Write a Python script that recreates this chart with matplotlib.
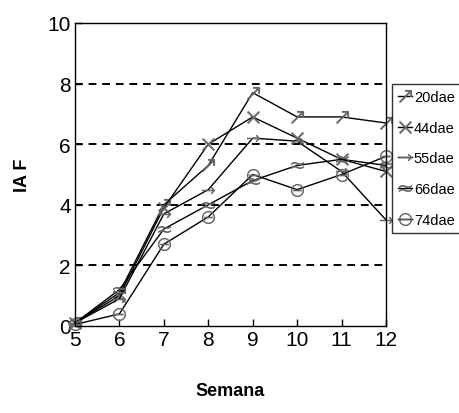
import matplotlib
matplotlib.use("Agg")
import matplotlib.pyplot as plt

plt.rcParams['font.family'] = ['Liberation Sans', 'DejaVu Sans']
plt.rcParams['mathtext.fontset'] = 'dejavusans'

semana = [5, 6, 7, 8, 9, 10, 11, 12]
labels = ['20dae', '44dae', '55dae', '66dae', '74dae']
s20 = [0.1, 1.1, 4.0, 5.3, 7.7, 6.9, 6.9, 6.7]
s44 = [0.1, 1.0, 3.9, 6.0, 6.9, 6.2, 5.5, 5.1]
s55 = [0.1, 0.9, 3.7, 4.5, 6.2, 6.1, 5.1, 3.5]
s66 = [0.1, 1.2, 3.2, 4.0, 4.8, 5.3, 5.5, 5.3]
s74 = [0.05, 0.4, 2.7, 3.6, 5.0, 4.5, 5.0, 5.6]
series = [s20, s44, s55, s66, s74]
markers = ['$\\nearrow$', '$\\times$', '$\\rightarrow$', '$\\approx$', '$\\ominus$']
yticks = [0, 2, 4, 6, 8, 10]

fig = plt.figure(figsize=(4.59, 4.14), dpi=100)
ax = fig.add_axes([75/459, 1-327/414, (386-75)/459, (327-24)/414])

for vals, lab, mk in zip(series, labels, markers):
    ax.plot(semana, vals, color='black', lw=1.0, marker=mk, markersize=9.5,
            markeredgewidth=0, markerfacecolor='#666666', label=lab, clip_on=False)

for y in [2, 4, 6, 8]:
    ax.axhline(y, color='black', lw=1.4, ls=(0, (4, 3)), zorder=0)

ax.set_xlim(5, 12)
ax.set_ylim(0, 10)
ax.set_xticks(semana)
ax.set_yticks(yticks)
ax.tick_params(direction='in', length=5, width=1, labelsize=15, pad=3)
for s in ax.spines.values():
    s.set_linewidth(1.0)

ax.set_ylabel('IA F', fontsize=13, fontweight='bold', labelpad=12)
ax.set_xlabel('Semana', fontsize=13, fontweight='bold', labelpad=24)

leg = fig.legend(loc='upper left', bbox_to_anchor=(392/459, 1-85/414),
                 frameon=True, fancybox=False, edgecolor='black', fontsize=10.5,
                 handlelength=1.0, handletextpad=0.1, borderpad=0.4,
                 labelspacing=1.15, borderaxespad=0)
leg.get_frame().set_linewidth(1.0)

fig.savefig('out.png', dpi=100)
